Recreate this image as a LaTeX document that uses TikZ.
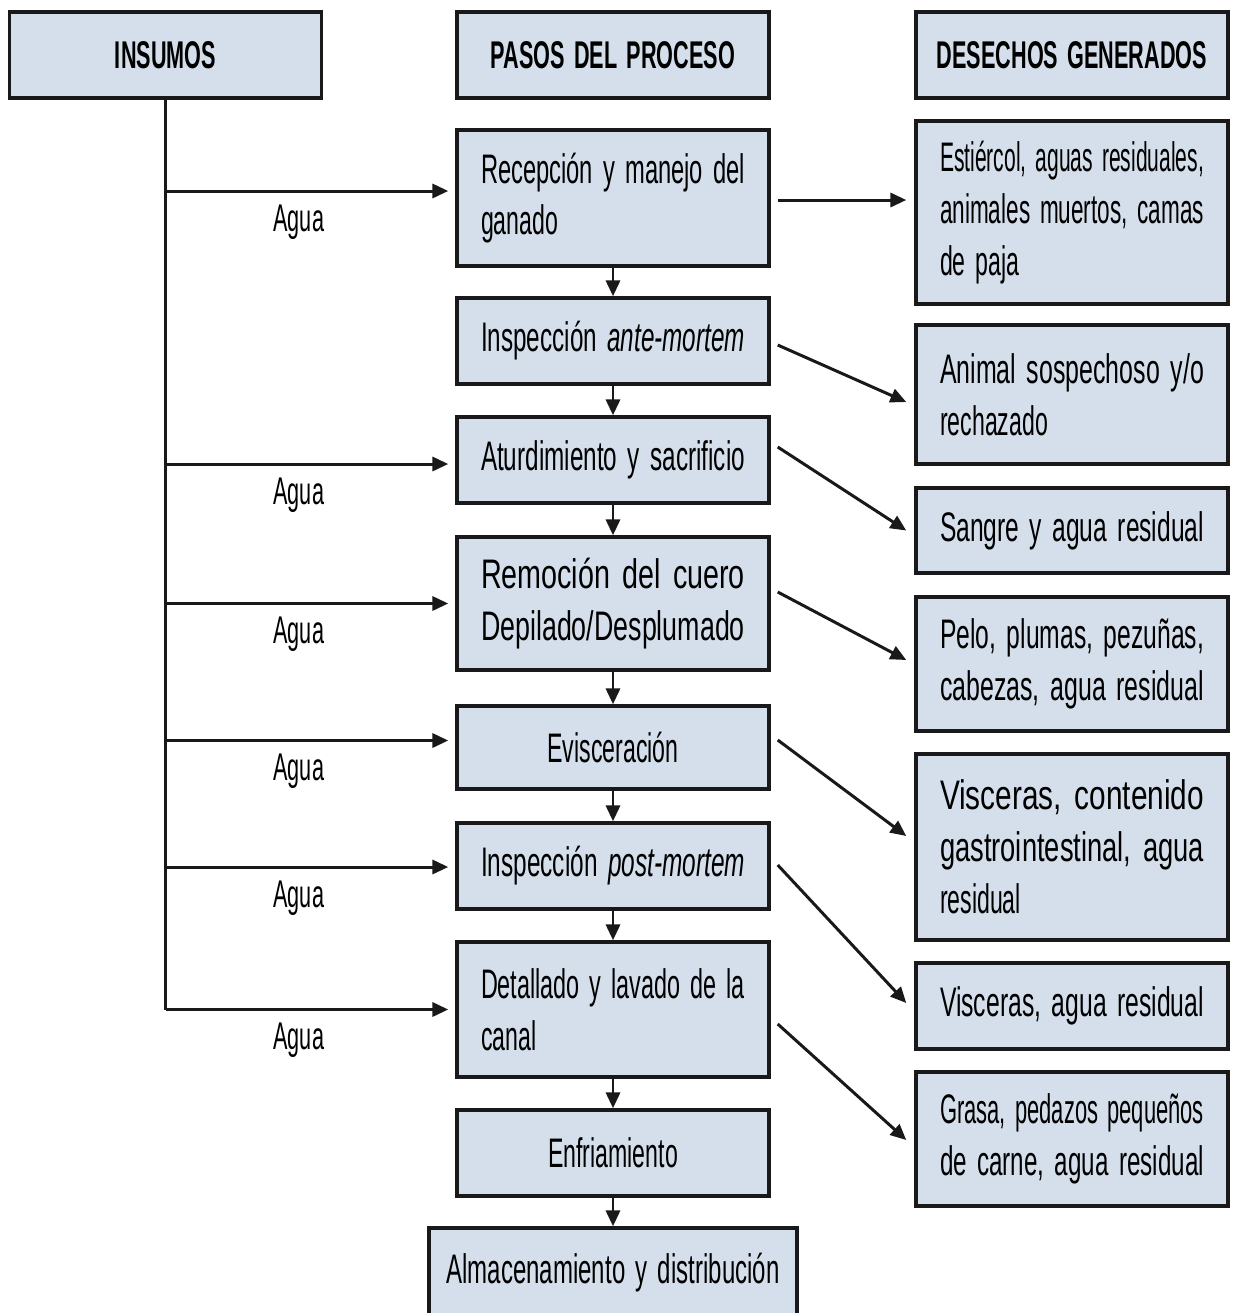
\documentclass[tikz,border=0pt]{standalone}
\usepackage{fontspec}
\usepackage{graphicx}
\setmainfont{Liberation Sans}[FakeStretch=0.56]
\usetikzlibrary{arrows.meta}
\definecolor{boxfill}{RGB}{212,223,235}
\definecolor{inkline}{RGB}{25,25,25}
\newcommand{\jl}[1]{\resizebox{5.28cm}{\height}{#1}}
\hyphenpenalty=10000
\begin{document}
\begin{tikzpicture}[x=0.02cm,y=-0.02cm,
  >={Triangle[length=9pt,width=8pt]},
  line width=1.7pt, draw=inkline,
  execute at begin node={\spaceskip=0.24em\relax},
  headbox/.style={draw=inkline, fill=boxfill, line width=2pt, rectangle, minimum width=6.24cm, minimum height=1.72cm, align=center, font=\fontsize{22}{27}\selectfont\bfseries},
  stepbox/.style={draw=inkline, fill=boxfill, line width=2pt, rectangle, minimum width=6.24cm, text width=5.28cm, inner xsep=0.48cm, align=center, font=\fontsize{23.5}{29.5}\selectfont},
  wastebox/.style={stepbox, align=left}]
\useasboundingbox (0,0) rectangle (1238,1313);
% column heads
\node[headbox] (insumos) at (165.5,55) {INSUMOS};
\node[headbox] (pasos) at (613,55) {PASOS DEL PROCESO};
\node[headbox] (desechos) at (1072,55) {DESECHOS GENERADOS};
% process steps
\node[stepbox, align=left, minimum height=2.72cm] (recepcion) at (613,198) {\jl{Recepción y manejo del}\\ganado};
\node[stepbox, minimum height=1.72cm] (ante) at (613,341) {\jl{Inspección \textit{ante-mortem}}};
\node[stepbox, minimum height=1.72cm] (aturdimiento) at (613,460) {\jl{Aturdimiento y sacrificio}};
\node[stepbox, align=left, minimum height=2.66cm] (remocion) at (613,603.5) {\jl{Remoción del cuero}\\\jl{Depilado/Desplumado}};
\node[stepbox, minimum height=1.66cm] (evisceracion) at (613,747.5) {Evisceración};
\node[stepbox, minimum height=1.72cm] (post) at (613,866) {\jl{Inspección \textit{post-mortem}}};
\node[stepbox, align=left, minimum height=2.70cm] (detallado) at (613,1009.5) {\jl{Detallado y lavado de la}\\canal};
\node[stepbox, minimum height=1.72cm] (enfriamiento) at (613,1153) {Enfriamiento};
\node[stepbox, minimum width=7.36cm, text width=6.9cm, inner xsep=0.23cm, minimum height=1.8cm] (almacen) at (613,1273) {\resizebox{6.66cm}{\height}{Almacenamiento y distribución}};
% wastes
\node[wastebox, minimum height=3.66cm] (estiercol) at (1072,212.5) {\jl{Estiércol, aguas residuales,}\\\jl{animales muertos, camas}\\de paja};
\node[wastebox, minimum height=2.78cm] (sospechoso) at (1072,394.5) {\jl{Animal sospechoso y/o}\\rechazado};
\node[wastebox, minimum height=1.70cm] (sangre) at (1072,530.5) {\jl{Sangre y agua residual}};
\node[wastebox, minimum height=2.68cm] (pelo) at (1072,664) {\jl{Pelo, plumas, pezuñas,}\\\jl{cabezas, agua residual}};
\node[wastebox, minimum height=3.72cm] (visceras) at (1072,847) {\jl{Visceras, contenido}\\\jl{gastrointestinal, agua}\\residual};
\node[wastebox, minimum height=1.72cm] (visceraslav) at (1072,1006) {\jl{Visceras, agua residual}};
\node[wastebox, minimum height=2.68cm] (grasa) at (1072,1139) {\jl{Grasa, pedazos pequeños}\\\jl{de carne, agua residual}};
% step to step
\foreach \a/\b in {recepcion/ante, ante/aturdimiento, aturdimiento/remocion, remocion/evisceracion, evisceracion/post, post/detallado, detallado/enfriamiento, enfriamiento/almacen}
  \draw[->] (\a) -- (\b);
% water inputs
\draw (insumos.south) -- (insumos.south |- detallado.west);
\foreach \s/\dy in {recepcion/-7, aturdimiento/4, remocion/0, evisceracion/-7, post/1, detallado/0}{
  \path (\s.west) ++(0,\dy) coordinate (in-\s);
  \draw[->, shorten >=4pt] (insumos.south |- in-\s) -- node[pos=0.46, yshift=-17.6pt, font=\fontsize{22}{26}\selectfont] {Agua} (in-\s);
}
% wastes out
\foreach \s/\sy/\t/\ty in {recepcion/2/estiercol/-12.5, ante/4/sospechoso/7.5, aturdimiento/-13/sangre/0, remocion/-11.5/pelo/-4, evisceracion/-7.5/visceras/-11, post/-1/visceraslav/-3, detallado/14.5/grasa/1}
  \draw[->] ([shift={(7,\sy)}]\s.east) -- ([shift={(-8,\ty)}]\t.west);
\end{tikzpicture}
\end{document}
